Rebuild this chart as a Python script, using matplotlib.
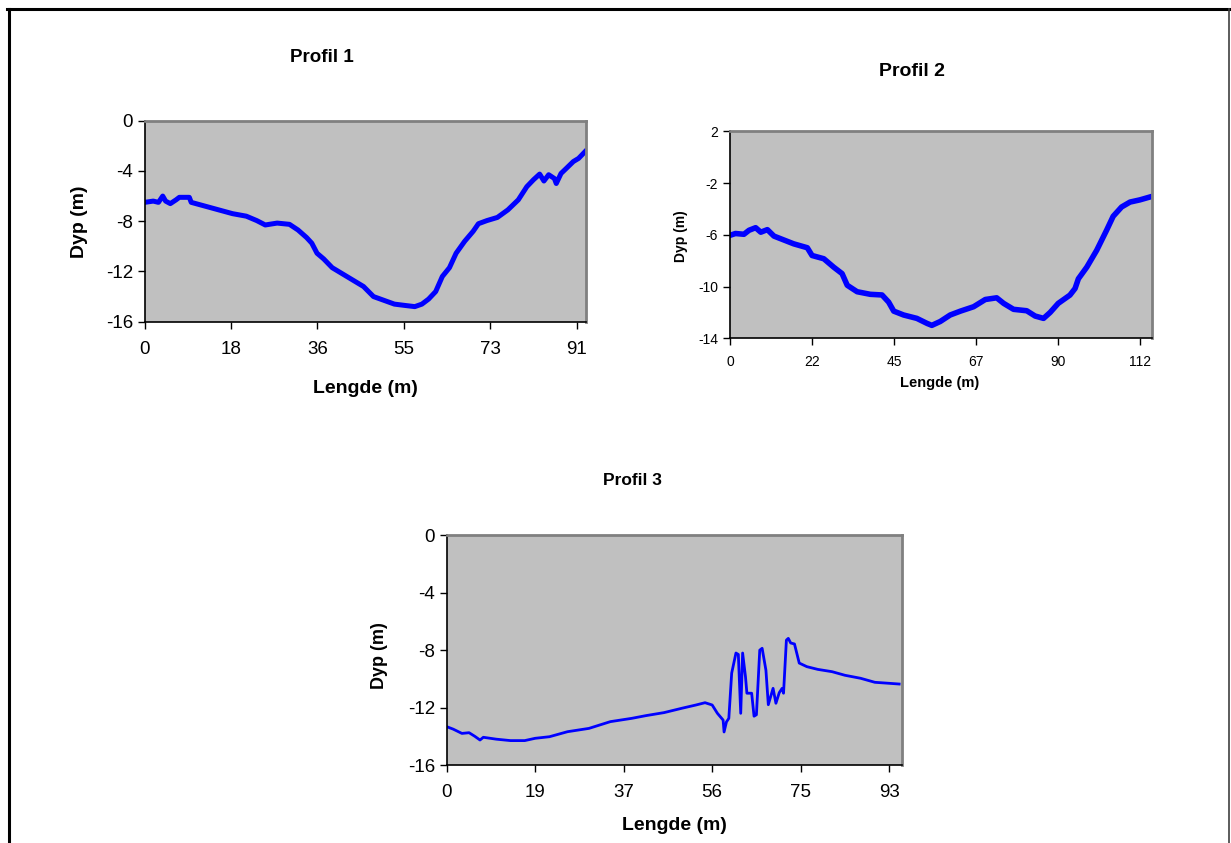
import numpy as np
import matplotlib
matplotlib.use("Agg")
from matplotlib import pyplot as plt
from matplotlib.lines import Line2D

plt.rcParams['font.family'] = ['Liberation Sans', 'DejaVu Sans']
plt.rcParams['axes.unicode_minus'] = False

# profil 1
p1_x = [0, 1.8, 2.9, 3.8, 4.4, 5.4, 6.6, 7.3, 9.4, 9.8, 12.7, 15.6, 18.5, 21.4,
        23.6, 25.4, 27.9, 30.5, 32.3, 34.1, 35.2, 36.3, 37.7, 39.5, 41.7, 43.9,
        46.1, 48.2, 50.4, 52.6, 54.7, 56.9, 58.4, 59.8, 61.3, 62.7, 64.2, 65.6,
        67.4, 69.2, 70.3, 72.1, 74.3, 76.5, 78.7, 80.5, 81.9, 83.2, 84.1, 85.1,
        86.3, 86.7, 87.7, 88.8, 90.3, 91.4, 92.8]
p1_y = [-6.5, -6.4, -6.5, -6.0, -6.4, -6.6, -6.3, -6.1, -6.1, -6.5, -6.8, -7.1,
        -7.4, -7.6, -7.95, -8.3, -8.15, -8.25, -8.7, -9.3, -9.75, -10.55, -11.0,
        -11.7, -12.2, -12.7, -13.2, -14.0, -14.3, -14.6, -14.7, -14.8, -14.6,
        -14.2, -13.6, -12.4, -11.7, -10.55, -9.6, -8.8, -8.2, -7.95, -7.7, -7.1,
        -6.3, -5.25, -4.7, -4.25, -4.8, -4.3, -4.6, -5.0, -4.2, -3.8, -3.25,
        -3.0, -2.45]
p1_ticks = [0, 18.2, 36.4, 54.6, 72.8, 91.0]
p1_labels = ["0", "18", "36", "55", "73", "91"]

# profil 2
p2_x = [0, 1.5, 3.8, 5.2, 7.0, 8.4, 10.2, 12.0, 14.7, 17.4, 21.1, 22.4, 25.6,
        28.3, 30.6, 32.0, 34.7, 38.3, 41.5, 43.3, 44.7, 47.4, 51.0, 53.8, 55.1,
        57.4, 60.1, 62.9, 66.5, 69.7, 72.8, 74.7, 77.4, 81.0, 83.3, 85.6, 87.4,
        89.6, 92.8, 94.2, 95.1, 97.4, 100.1, 102.8, 104.6, 106.9, 109.2, 111.9,
        114.6]
p2_y = [-6.04, -5.9, -5.96, -5.65, -5.45, -5.8, -5.6, -6.1, -6.4, -6.7, -7.0,
        -7.6, -7.85, -8.5, -9.0, -9.9, -10.4, -10.6, -10.65, -11.2, -11.9, -12.2,
        -12.46, -12.85, -13.0, -12.7, -12.2, -11.9, -11.56, -11.0, -10.87, -11.3,
        -11.76, -11.87, -12.28, -12.46, -12.0, -11.3, -10.66, -10.15, -9.4, -8.5,
        -7.2, -5.65, -4.57, -3.85, -3.47, -3.3, -3.08]
p2_ticks = [0, 22.4, 44.8, 67.2, 89.6, 112.0]
p2_labels = ["0", "22", "45", "67", "90", "112"]

# profil 3
p3_x = [0, 1.35, 3.2, 4.7, 5.9, 7.0, 7.7, 10.4, 13.4, 16.4, 18.6, 21.6, 25.4,
        29.9, 34.4, 38.9, 41.9, 45.7, 49.4, 52.4, 54.3, 55.8, 56.9, 58.1, 58.3,
        58.8, 59.3, 59.9, 60.8, 61.3, 61.8, 62.2, 62.8, 63.1, 64.1, 64.6, 65.1,
        65.8, 66.3, 67.1, 67.6, 68.6, 69.2, 69.9, 70.5, 70.8, 71.4, 71.8, 72.3,
        73.1, 74.1, 75.7, 78.0, 81.0, 83.7, 87.0, 90.0, 92.6, 95.1]
p3_y = [-13.33, -13.5, -13.8, -13.75, -14.0, -14.26, -14.07, -14.2, -14.3,
        -14.3, -14.14, -14.03, -13.68, -13.45, -12.98, -12.75, -12.56, -12.35,
        -12.05, -11.82, -11.66, -11.82, -12.4, -12.87, -13.7, -13.0, -12.75,
        -9.6, -8.2, -8.3, -12.4, -8.2, -9.85, -11.0, -11.0, -12.6, -12.5, -8.0,
        -7.87, -9.4, -11.8, -10.66, -11.7, -10.96, -10.66, -11.0, -7.3, -7.18,
        -7.5, -7.57, -8.9, -9.15, -9.34, -9.5, -9.75, -9.96, -10.24, -10.3,
        -10.36]
p3_ticks = [0, 18.6, 37.2, 55.8, 74.4, 93.0]
p3_labels = ["0", "19", "37", "56", "75", "93"]

W, H = 1231, 843
fig = plt.figure(figsize=(W / 100, H / 100), dpi=100)


def px_rect(l, r, t, b):
    return [l / W, 1 - b / H, (r - l) / W, (b - t) / H]


def style_ax(ax, xmax, ylim, yticks, xt, xl, fs):
    ax.set_facecolor("#C0C0C0")
    ax.set_xlim(0, xmax)
    ax.set_ylim(*ylim)
    ax.set_yticks(yticks)
    ax.set_xticks(xt)
    ax.set_xticklabels(xl)
    for s in ["top", "right"]:
        ax.spines[s].set_color("#808080")
        ax.spines[s].set_linewidth(2)
    for s in ["left", "bottom"]:
        ax.spines[s].set_color("black")
        ax.spines[s].set_linewidth(1.2)
    ax.tick_params(direction="out", length=5, width=1, labelsize=fs, colors="black")
    ax.tick_params(axis="x", pad=9)


# Profil 1
ax1 = fig.add_axes(px_rect(144.7, 585.7, 120.7, 321.7))
ax1.plot(p1_x, p1_y, color="#0000FF", lw=3.6, solid_joinstyle="round")
style_ax(ax1, 92.9, (-16, 0), [0, -4, -8, -12, -16], p1_ticks, p1_labels, 13.5)
fig.text(322 / W, 1 - 57 / H, "Profil 1", fontsize=13.5, fontweight="bold", ha="center", va="center")
fig.text(365 / W, 1 - 389 / H, "Lengde (m)", fontsize=14, fontweight="bold", ha="center", va="center")
fig.text(80 / W, 1 - 222 / H, "Dyp (m)", fontsize=14, fontweight="bold", ha="center", va="center", rotation=90)

# Profil 2
ax2 = fig.add_axes(px_rect(730, 1152, 131.3, 338.3))
ax2.plot(p2_x, p2_y, color="#0000FF", lw=4, solid_joinstyle="round")
style_ax(ax2, 115.2, (-14, 2), [2, -2, -6, -10, -14], p2_ticks, p2_labels, 10)
ax2.tick_params(axis="x", pad=7)
fig.text(912 / W, 1 - 72 / H, "Profil 2", fontsize=14, fontweight="bold", ha="center", va="center")
fig.text(940 / W, 1 - 383 / H, "Lengde (m)", fontsize=10.5, fontweight="bold", ha="center", va="center")
fig.text(681 / W, 1 - 236 / H, "Dyp (m)", fontsize=10, fontweight="bold", ha="center", va="center", rotation=90)

# Profil 3
ax3 = fig.add_axes(px_rect(446.7, 902, 535.3, 765))
ax3.plot(p3_x, p3_y, color="#0000FF", lw=2, solid_joinstyle="round")
style_ax(ax3, 95.7, (-16, 0), [0, -4, -8, -12, -16], p3_ticks, p3_labels, 13.5)
fig.text(632 / W, 1 - 480 / H, "Profil 3", fontsize=12.5, fontweight="bold", ha="center", va="center")
fig.text(674 / W, 1 - 826 / H, "Lengde (m)", fontsize=14, fontweight="bold", ha="center", va="center")
fig.text(380 / W, 1 - 656 / H, "Dyp (m)", fontsize=13, fontweight="bold", ha="center", va="center", rotation=90)

# outer frame
fig.add_artist(Line2D([8.5 / W, 8.5 / W], [0, 1 - 8.5 / H], transform=fig.transFigure, color="black", lw=2.2))
fig.add_artist(Line2D([7 / W, 1228.5 / W], [1 - 8.5 / H, 1 - 8.5 / H], transform=fig.transFigure, color="black", lw=2.2))
fig.add_artist(Line2D([1228.5 / W, 1228.5 / W], [0, 1 - 8.5 / H], transform=fig.transFigure, color="#404040", lw=1.2))

plt.savefig("out.png", dpi=100)
